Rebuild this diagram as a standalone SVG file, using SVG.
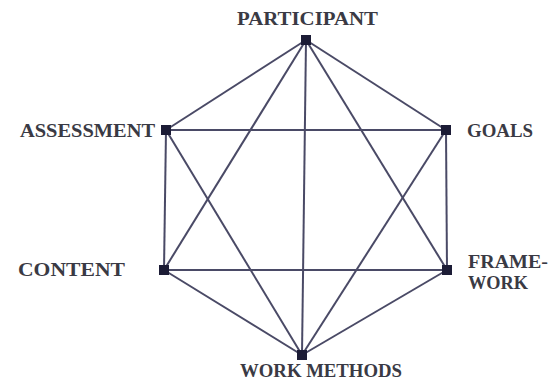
<svg xmlns="http://www.w3.org/2000/svg" width="549" height="382" viewBox="0 0 549 382">
<style>
.lbl{font-family:"Liberation Serif","Times New Roman",serif;font-weight:bold;font-size:19px;fill:#3a3a44}
.edge{stroke:#4a4a66;stroke-width:2;fill:none}
.sq{fill:#1c1c36}
</style>
<rect width="549" height="382" fill="#ffffff"/>
<g id="connectors">
<line class="edge" x1="306" y1="40" x2="446" y2="130"/>
<line class="edge" x1="306" y1="40" x2="166" y2="130"/>
<line class="edge" x1="306" y1="40" x2="164" y2="270"/>
<line class="edge" x1="306" y1="40" x2="447" y2="270"/>
<line class="edge" x1="306" y1="40" x2="302" y2="355"/>
<line class="edge" x1="166" y1="130" x2="446" y2="130"/>
<line class="edge" x1="166" y1="130" x2="164" y2="270"/>
<line class="edge" x1="166" y1="130" x2="302" y2="355"/>
<line class="edge" x1="446" y1="130" x2="447" y2="270"/>
<line class="edge" x1="446" y1="130" x2="302" y2="355"/>
<line class="edge" x1="164" y1="270" x2="447" y2="270"/>
<line class="edge" x1="164" y1="270" x2="302" y2="355"/>
<line class="edge" x1="447" y1="270" x2="302" y2="355"/>
</g>
<g id="participant">
<rect class="sq" x="301" y="35" width="10" height="10"/>
<text class="lbl" x="237" y="25" textLength="141" lengthAdjust="spacingAndGlyphs">PARTICIPANT</text>
</g>
<g id="assessment">
<rect class="sq" x="161" y="125" width="10" height="10"/>
<text class="lbl" x="20" y="137" textLength="135" lengthAdjust="spacingAndGlyphs">ASSESSMENT</text>
</g>
<g id="goals">
<rect class="sq" x="441" y="125" width="10" height="10"/>
<text class="lbl" x="467" y="137" textLength="66" lengthAdjust="spacingAndGlyphs">GOALS</text>
</g>
<g id="content">
<rect class="sq" x="159" y="265" width="10" height="10"/>
<text class="lbl" x="18" y="276" textLength="107" lengthAdjust="spacingAndGlyphs">CONTENT</text>
</g>
<g id="framework">
<rect class="sq" x="442" y="265" width="10" height="10"/>
<text class="lbl" x="468" y="268" textLength="80" lengthAdjust="spacingAndGlyphs">FRAME-</text>
<text class="lbl" x="468" y="289" textLength="60" lengthAdjust="spacingAndGlyphs">WORK</text>
</g>
<g id="work-methods">
<rect class="sq" x="297" y="350" width="10" height="10"/>
<text class="lbl" x="240" y="377" textLength="162" lengthAdjust="spacingAndGlyphs">WORK METHODS</text>
</g>
</svg>
